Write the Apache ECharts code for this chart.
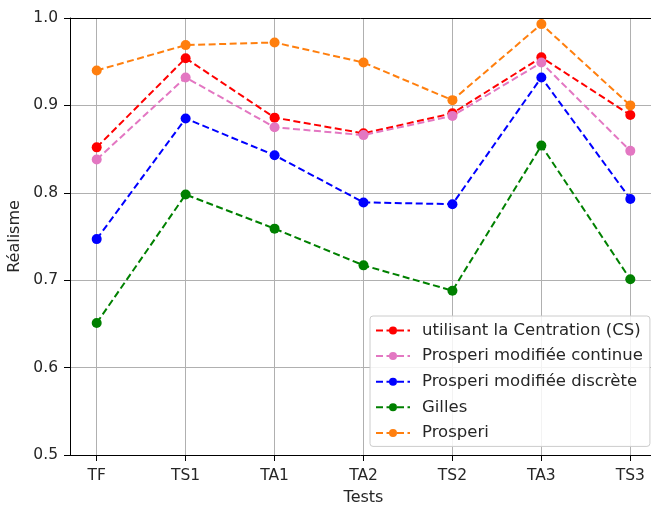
<!DOCTYPE html>
<html>
<head>
<meta charset="utf-8">
<script src="https://cdn.jsdelivr.net/npm/echarts@6/dist/echarts.min.js"></script>
<style>html,body{margin:0;padding:0;background:#fff;}#c{width:651px;height:507px;}</style>
</head>
<body>
<div id="c"></div>
<script>
const categories = ['TF', 'TS1', 'TA1', 'TA2', 'TS2', 'TA3', 'TS3'];
const yTicks = [0.5, 0.6, 0.7, 0.8, 0.9, 1.0];
const csValues = [0.852, 0.954, 0.886, 0.868, 0.891, 0.955, 0.889];
const pmcValues = [0.838, 0.932, 0.875, 0.866, 0.888, 0.949, 0.848];
const pmdValues = [0.747, 0.885, 0.843, 0.789, 0.787, 0.932, 0.793];
const gillesValues = [0.651, 0.798, 0.759, 0.717, 0.688, 0.854, 0.701];
const prosperiValues = [0.940, 0.969, 0.972, 0.949, 0.906, 0.993, 0.900];
const seriesNames = ['utilisant la Centration (CS)', 'Prosperi modifiée continue', 'Prosperi modifiée discrète', 'Gilles', 'Prosperi'];
const seriesColors = ['#ff0000', '#e377c2', '#0000ff', '#008000', '#ff7f0e'];
const seriesValues = [csValues, pmcValues, pmdValues, gillesValues, prosperiValues];

const FONT = 'DejaVu Sans';
const TXT = '#262626';
const chart = echarts.init(document.getElementById('c'), null, {renderer: 'canvas'});
chart.setOption({
  animation: false,
  backgroundColor: '#fff',
  textStyle: {fontFamily: FONT},
  grid: [
    {left: 70, right: 0, top: 18, bottom: 52, containLabel: false, outerBoundsMode: 'none'},
    {left: 96.7, right: 20.7, top: 18, bottom: 52, containLabel: false, outerBoundsMode: 'none'}
  ],
  xAxis: [
    {gridIndex: 0, type: 'value', min: 0, max: 1, position: 'bottom',
     axisLine: {show: true, lineStyle: {color: '#000', width: 1}},
     axisTick: {show: false}, axisLabel: {show: false}, splitLine: {show: false}},
    {gridIndex: 0, type: 'value', min: 0, max: 1, position: 'top',
     axisLine: {show: true, lineStyle: {color: '#000', width: 1}},
     axisTick: {show: false}, axisLabel: {show: false}, splitLine: {show: false}},
    {gridIndex: 1, type: 'category', data: categories, boundaryGap: false,
     name: 'Tests', nameLocation: 'middle', nameGap: 35,
     nameTextStyle: {fontSize: 16, color: TXT, fontFamily: FONT},
     axisLine: {show: false},
     axisTick: {show: true, length: 6, inside: false, lineStyle: {color: '#000'}},
     axisLabel: {fontSize: 15.5, color: TXT, margin: 13, fontFamily: FONT},
     splitLine: {show: true, lineStyle: {color: '#b0b0b0', width: 1}}}
  ],
  yAxis: [
    {gridIndex: 0, type: 'value', min: yTicks[0], max: yTicks[yTicks.length - 1], interval: 0.1,
     name: 'Réalisme', nameLocation: 'middle', nameGap: 41, nameRotate: 90,
     nameTextStyle: {fontSize: 16, color: TXT, fontFamily: FONT},
     axisLine: {show: true, lineStyle: {color: '#000', width: 1}},
     axisTick: {show: true, length: 6, lineStyle: {color: '#000'}},
     axisLabel: {fontSize: 15.5, color: TXT, margin: 12, fontFamily: FONT, formatter: v => v.toFixed(1)},
     splitLine: {show: true, lineStyle: {color: '#b0b0b0', width: 1}}},
    {gridIndex: 1, type: 'value', min: yTicks[0], max: yTicks[yTicks.length - 1], show: false}
  ],
  legend: {
    left: 370, top: 316, orient: 'vertical',
    data: seriesNames,
    itemWidth: 34, itemHeight: 10, itemGap: 8.6,
    padding: [6, 7, 5, 5],
    backgroundColor: 'rgba(255,255,255,0.85)',
    borderColor: '#cccccc', borderWidth: 1, borderRadius: 3,
    textStyle: {fontSize: 16.5, color: TXT, fontFamily: FONT, padding: [0, 0, 0, 7]}
  },
  series: seriesNames.map((n, i) => ({
    name: n, type: 'line', xAxisIndex: 2, yAxisIndex: 1,
    data: seriesValues[i],
    symbol: 'circle', symbolSize: 10, clip: false,
    itemStyle: {color: seriesColors[i]},
    lineStyle: {color: seriesColors[i], width: 2, type: [7, 3.5]},
    z: 3 + i
  }))
});
</script>
</body>
</html>
